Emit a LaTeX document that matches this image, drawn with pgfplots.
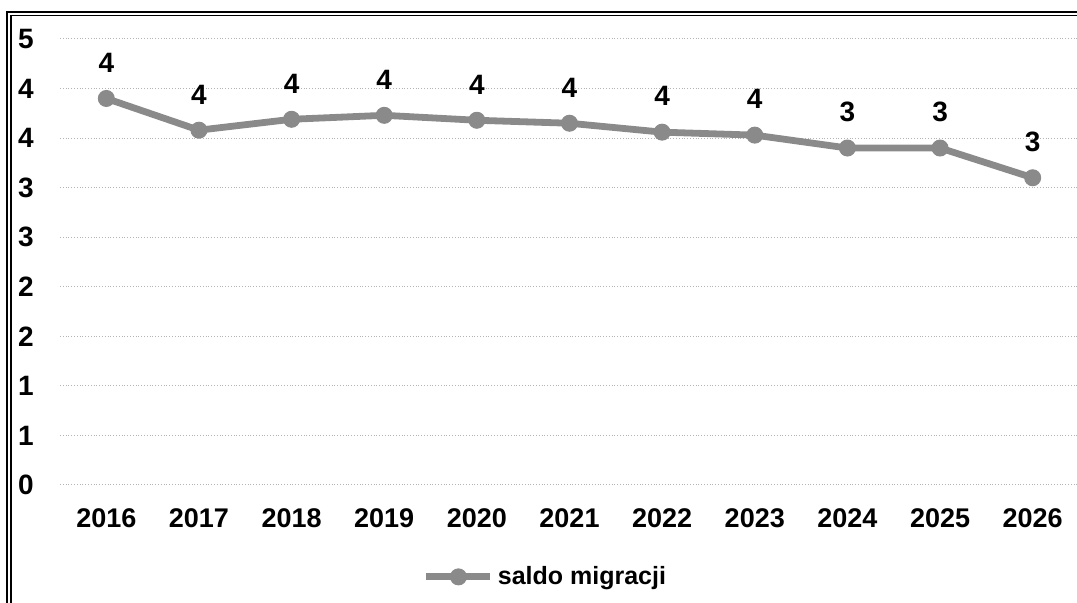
\documentclass[border=0pt]{standalone}
\usepackage{fontspec}
\setmainfont{Liberation Sans}
\usepackage{pgfplots}
\pgfplotsset{compat=1.18}
\definecolor{linegray}{HTML}{8A8A8A}
\definecolor{gridgray}{HTML}{B4B4B4}

\pgfplotstableread{
x  year  saldo
0  2016  3.90
1  2017  3.58
2  2018  3.69
3  2019  3.73
4  2020  3.68
5  2021  3.65
6  2022  3.56
7  2023  3.53
8  2024  3.40
9  2025  3.40
10 2026  3.10
}\saldo

\begin{document}
\begin{tikzpicture}
% page = 1077 x 603 px, 1 px = 0.5 pt; axis box from px (60,485) to (1079,39)
\useasboundingbox (-30pt,-59pt) rectangle (508.5pt,242.5pt);
% scanned outer frame
\draw[line width=0.9pt] (-26.5pt,-60pt) -- (-26.5pt,236.5pt) -- (510pt,236.5pt);
\draw[line width=0.6pt] (-24.5pt,-60pt) -- (-24.5pt,234.8pt) -- (510pt,234.8pt);
\begin{axis}[
    scale only axis,
    width=509.5pt, height=223pt,
    xmin=-0.5, xmax=10.5,
    ymin=0, ymax=4.5,
    axis line style={draw=none},
    major tick length=0pt,
    xtick={0,...,10},
    xticklabels={2016,2017,2018,2019,2020,2021,2022,2023,2024,2025,2026},
    ytick={0,0.5,...,4.5},
    yticklabels={0,1,1,2,2,3,3,4,4,5},
    ymajorgrids,
    grid style={densely dotted, gridgray, line width=0.5pt},
    /pgf/number format/assume math mode=true,
    xticklabel style={anchor=center, yshift=-16.5pt,
        font=\bfseries\fontsize{13.5}{15}\selectfont},
    yticklabel style={anchor=center, xshift=-17pt,
        font=\bfseries\fontsize{14}{15}\selectfont},
    legend style={draw=none, fill=none, at={(0.35,-0.206)}, anchor=west,
        font=\bfseries\fontsize{12.5}{14}\selectfont},
    legend image code/.code={
        \draw[mark repeat=2, mark phase=2, #1]
            plot coordinates {(0pt,0pt) (16pt,0pt) (32pt,0pt)};
    },
]
\addplot[
    color=linegray, line width=3.4pt,
    mark=*, mark size=4pt, mark options={fill=linegray, line width=0.5pt},
    nodes near coords={\pgfmathprintnumber[fixed,precision=0]{\pgfplotspointmeta}},
    nodes near coords style={text=black, anchor=south, yshift=9.5pt,
        font=\bfseries\fontsize{14}{15}\selectfont},
    point meta=y,
] table[x=x, y=saldo] {\saldo};
\addlegendentry{saldo migracji}
\end{axis}
\end{tikzpicture}
\end{document}
